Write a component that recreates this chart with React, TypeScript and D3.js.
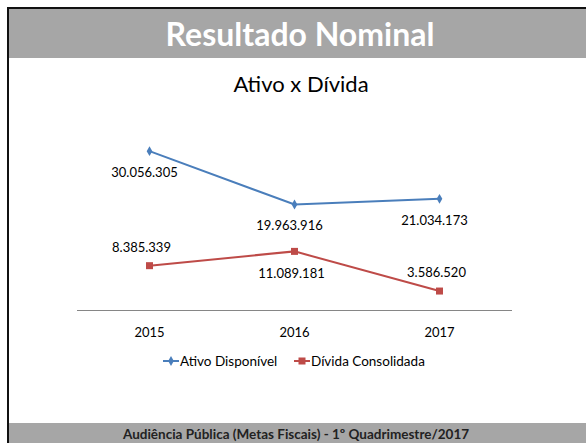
import React from "react";
import * as d3 from "d3";

const categories = ["2015", "2016", "2017"];
const ativo = [30056305, 19963916, 21034173];
const divida = [8385339, 11089181, 3586520];
const seriesNames = ["Ativo Disponível", "Dívida Consolidada"];
// label placement: +1 below, -1 above
const ativoLabelPos = [1, 1, 1];
const dividaLabelPos = [-1, 1, -1];

const W = 586;
const H = 443;
const FONT = "Lato, 'Open Sans', sans-serif";
const fmt = (v: number) => d3.format(",")(v).replace(/,/g, ".");

export default function App() {
  const x = d3.scaleBand().domain(categories).range([77, 512]);
  const y = d3.scaleLinear().domain([0, 35000000]).range([310, 125]);
  const cx = (c: string) => (x(c) as number) + x.bandwidth() / 2;
  const line = d3
    .line<number>()
    .x((_, i) => cx(categories[i]))
    .y((d) => y(d));
  const blue = "#4a7ebb";
  const red = "#be4b48";
  const diamond = d3.symbol().type(d3.symbolDiamond).size(28)();

  return (
    <svg
      width={W}
      height={H}
      style={{ position: "absolute", left: 0, top: 0, background: "#fff" }}
      fontFamily={FONT}
    >
      {/* frame */}
      <rect x={9} y={9} width={W - 9} height={49} fill="#a6a6a6" />
      <rect x={9} y={423} width={W - 9} height={20} fill="#a6a6a6" />
      <rect x={7} y={7} width={2} height={H - 7} fill="#111" />
      <rect x={7} y={7} width={W - 7} height={2} fill="#111" />
      <text x={300} y={46} textAnchor="middle" fill="#fff" fontSize={32} fontWeight="bold">
        Resultado Nominal
      </text>
      <text x={301} y={92} textAnchor="middle" fill="#000" fontSize={22}>
        Ativo x Dívida
      </text>

      {/* axis */}
      <line x1={77} x2={512} y1={310.5} y2={310.5} stroke="#868686" strokeWidth={1} />
      {categories.map((c) => (
        <text key={c} x={cx(c)} y={337} textAnchor="middle" fontSize={13} fill="#000">
          {c}
        </text>
      ))}

      {/* series */}
      <path d={line(ativo) || ""} fill="none" stroke={blue} strokeWidth={2} />
      <path d={line(divida) || ""} fill="none" stroke={red} strokeWidth={2} />
      {ativo.map((v, i) => (
        <path key={"a" + i} d={diamond || ""} transform={`translate(${cx(categories[i])},${y(v)})`} fill={blue} />
      ))}
      {divida.map((v, i) => (
        <rect key={"d" + i} x={cx(categories[i]) - 3.5} y={y(v) - 3.5} width={7} height={7} fill={red} />
      ))}
      {ativo.map((v, i) => (
        <text
          key={"al" + i}
          x={cx(categories[i]) - 5}
          y={y(v) + (ativoLabelPos[i] > 0 ? 26 : -12)}
          textAnchor="middle"
          fontSize={13}
          fill="#000"
        >
          {fmt(v)}
        </text>
      ))}
      {divida.map((v, i) => (
        <text
          key={"dl" + i}
          x={cx(categories[i]) - (i === 0 ? 8 : 3)}
          y={y(v) + (dividaLabelPos[i] > 0 ? 27 : -14)}
          textAnchor="middle"
          fontSize={13}
          fill="#000"
        >
          {fmt(v)}
        </text>
      ))}

      {/* legend */}
      <g transform="translate(163,361)">
        <line x1={0} x2={16} y1={0} y2={0} stroke={blue} strokeWidth={2} />
        <path d={diamond || ""} transform="translate(8,0)" fill={blue} />
        <text x={17} y={4.5} fontSize={13.5} fill="#000">
          {seriesNames[0]}
        </text>
      </g>
      <g transform="translate(294,361)">
        <line x1={0} x2={16} y1={0} y2={0} stroke={red} strokeWidth={2} />
        <rect x={4.5} y={-3.5} width={7} height={7} fill={red} />
        <text x={17} y={4.5} fontSize={13.5} fill="#000">
          {seriesNames[1]}
        </text>
      </g>

      <text x={296} y={439} textAnchor="middle" fontSize={13.5} fontWeight="bold" fill="#222">
        Audiência Pública (Metas Fiscais) - 1º  Quadrimestre/2017
      </text>
    </svg>
  );
}
